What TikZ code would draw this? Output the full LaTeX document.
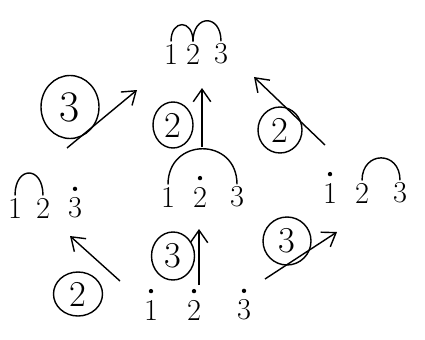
\documentclass[tikz,border=0pt]{standalone}
\usepackage{tikz}
\usetikzlibrary{shapes.geometric, arrows.meta, positioning}

\begin{document}
\begin{tikzpicture}[line width=0.8pt,
    num/.style={font=\LARGE, inner sep=1pt},
    dot/.style={circle, fill, inner sep=0pt, minimum size=2.5pt},
    lab/.style={draw, ellipse, inner sep=0pt, font=\huge, minimum width=0.88cm, minimum height=0.92cm},
    arr/.style={-{Straight Barb[length=2.5mm, width=3.5mm]}}]
\useasboundingbox (0,0) rectangle (8.5,6.78);
% Top: one block
\node[num] (t1) at (3.42, 5.70) {1};
\node[num] (t2) at (3.86, 5.70) {2};
\node[num] (t3) at (4.42, 5.70) {3};
\draw (t1.north) .. controls +(0,0.45) and +(0,0.45) .. (t2.north);
\draw (t2.north) .. controls +(0,0.55) and +(0,0.55) .. (t3.north);
% Middle left
\node[num] (l1) at (0.30, 2.62) {1};
\node[num] (l2) at (0.86, 2.62) {2};
\node[num] (l3) at (1.50, 2.62) {3};
\node[dot, above=2pt of l3] (l3d) {};
\draw (l1.north) .. controls +(0,0.6) and +(0,0.6) .. (l2.north);
% Middle centre
\node[num] (c1) at (3.36, 2.84) {1};
\node[num] (c2) at (4.00, 2.84) {2};
\node[num] (c3) at (4.74, 2.84) {3};
\node[dot, above=2pt of c2] (c2d) {};
\draw (c1.north) .. controls +(0,0.95) and +(0,0.95) .. (c3.north);
% Middle right
\node[num] (r1) at (6.60, 2.92) {1};
\node[num] (r2) at (7.24, 2.92) {2};
\node[num] (r3) at (8.00, 2.92) {3};
\node[dot, above=2pt of r1] (r1d) {};
\draw (r2.north) .. controls +(0,0.6) and +(0,0.6) .. (r3.north);
% Bottom: singletons
\node[num] (b1) at (3.02, 0.58) {1};
\node[num] (b2) at (3.88, 0.58) {2};
\node[num] (b3) at (4.88, 0.58) {3};
\node[dot, above=2pt of b1] (b1d) {};
\node[dot, above=2pt of b2] (b2d) {};
\node[dot, above=2pt of b3] (b3d) {};
% Arrows up to the top
\node[lab, font=\Huge, minimum width=1.16cm, minimum height=1.26cm] (k1) at (1.40, 4.64) {3};
\coordinate (a1s) at (1.34, 3.82);
\coordinate (a1e) at (2.74, 4.98);
\draw[arr] (a1s) -- (a1e);
\node[lab, minimum width=0.8cm] (k2) at (3.46, 4.28) {2};
\coordinate (a2s) at (4.04, 3.84);
\coordinate (a2e) at (4.04, 5.02);
\draw[arr] (a2s) -- (a2e);
\node[lab] (k3) at (5.60, 4.18) {2};
\coordinate (a3s) at (6.50, 3.88);
\coordinate (a3e) at (5.08, 5.24);
\draw[arr] (a3s) -- (a3e);
% Arrows up from the bottom
\node[lab, minimum width=0.98cm, minimum height=0.88cm] (k4) at (1.56, 0.90) {2};
\coordinate (a4s) at (2.40, 1.16);
\coordinate (a4e) at (1.40, 2.06);
\draw[arr] (a4s) -- (a4e);
\node[lab, minimum width=0.86cm, minimum height=0.96cm] (k5) at (3.46, 1.66) {3};
\coordinate (a5s) at (3.98, 1.08);
\coordinate (a5e) at (3.98, 2.20);
\draw[arr] (a5s) -- (a5e);
\node[lab, minimum width=0.96cm, minimum height=0.96cm] (k6) at (5.74, 1.96) {3};
\coordinate (a6s) at (5.30, 1.20);
\coordinate (a6e) at (6.74, 2.14);
\draw[arr] (a6s) -- (a6e);
\end{tikzpicture}
\end{document}
